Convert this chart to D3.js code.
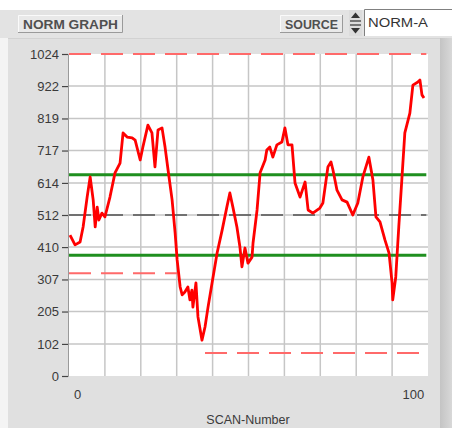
<!DOCTYPE html>
<html>
<head>
<meta charset="utf-8">
<script src="https://cdn.jsdelivr.net/npm/d3@7"></script>
<style>
  html, body { margin: 0; padding: 0; background: #ffffff; }
  svg { display: block; }
  text { font-family: "Liberation Sans", Arial, sans-serif; fill: #3a3a3a; }
</style>
</head>
<body>
<script>
// ---- data ----
const scanX = [-2.1, -0.6, 0.9, 1.8, 3.0, 3.9, 4.8, 5.4, 6.0, 6.5, 7.4, 8.3, 9.8, 11.3, 12.8, 13.7, 14.9, 16.4, 17.3, 18.8,
  19.6, 21.1, 22.3, 23.2, 24.1, 25.3, 26.2, 27.1, 28.3, 29.2, 29.8, 30.7, 31.3, 32.1, 33.0, 33.6, 34.2, 34.5, 35.4, 36.0,
  37.2, 38.1, 39.0, 40.2, 41.7, 43.2, 44.6, 45.5, 46.4, 47.6, 48.5, 49.1, 50.0, 50.9, 52.1, 52.4, 53.6, 54.5, 56.0, 56.5,
  57.4, 58.3, 59.5, 61.0, 61.9, 62.8, 64.0, 64.9, 66.4, 67.9, 68.8, 70.2, 72.3, 73.2, 74.7, 75.6, 76.2, 77.4, 78.9, 80.4,
  82.1, 83.6, 85.1, 86.9, 88.1, 89.0, 90.2, 91.7, 92.9, 93.8, 94.0, 94.9, 95.8, 96.7, 97.6, 99.1, 100.0, 101.5, 102.1, 102.7, 103.3];
const normY = [448, 417, 426, 474, 569, 633, 560, 474, 537, 496, 518, 506, 569, 646, 677, 773, 760, 757, 750, 687,
  728, 798, 773, 665, 782, 789, 728, 655, 560, 455, 369, 283, 258, 267, 283, 242, 273, 219, 296, 188,
  114, 156, 219, 296, 391, 464, 537, 582, 537, 474, 410, 347, 407, 359, 378, 423, 528, 646, 687, 719,
  728, 696, 735, 744, 789, 735, 735, 614, 569, 617, 528, 518, 534, 550, 665, 681, 655, 591, 560, 553,
  512, 550, 633, 696, 623, 506, 490, 432, 391, 296, 242, 315, 474, 623, 773, 836, 925, 935, 941, 894, 884];

const yTicks = [0, 102, 205, 307, 410, 512, 614, 717, 819, 922, 1024];
const xTicks = [0, 100];
const xDomain = [-2.4, 104.5];
const yDomain = [0, 1024];
const gridDivisions = 10;

// limit lines: [xStart, xEnd, value]
const redLimits = [[-2.4, 104.0, 1024], [-2.4, 29.8, 327], [38.1, 104.0, 73]];
const greenLimits = [[-2.4, 104.0, 640], [-2.4, 104.0, 384]];
const centerLines = [[-2.4, 104.0, 512]];

const titleText = "NORM GRAPH";
const sourceLabel = "SOURCE";
const sourceValue = "NORM-A";
const xTitle = "SCAN-Number";

// ---- drawing ----
const W = 452, H = 428;
const plot = { left: 69, right: 428, top: 54, bottom: 376 };

const svg = d3.select("body").append("svg").attr("width", W).attr("height", H);

// panels
svg.append("rect").attr("x", 0).attr("y", 0).attr("width", W).attr("height", H).attr("fill", "#ffffff");
svg.append("rect").attr("x", 0).attr("y", 10).attr("width", W).attr("height", H - 10).attr("fill", "#e3e3e3");
// graph frame
svg.append("rect").attr("x", 0).attr("y", 38).attr("width", 8).attr("height", H - 38).attr("fill", "#f4f4f4");
svg.append("rect").attr("x", 8).attr("y", 38).attr("width", 432).attr("height", H - 38).attr("fill", "#e0e0e0");
svg.append("line").attr("x1", 8).attr("x2", 440).attr("y1", 38.5).attr("y2", 38.5).attr("stroke", "#d2d2d2");
const grad = svg.append("defs").append("linearGradient").attr("id", "rgrad")
  .attr("x1", "0").attr("x2", "1").attr("y1", "0").attr("y2", "0");
grad.append("stop").attr("offset", "0").attr("stop-color", "#c4c4c4");
grad.append("stop").attr("offset", "1").attr("stop-color", "#d8d8d8");
svg.append("rect").attr("x", 440).attr("y", 38).attr("width", 12).attr("height", H - 38).attr("fill", "url(#rgrad)");

// header: raised label boxes
function raisedBox(x, y, w, h, label) {
  svg.append("rect").attr("x", x).attr("y", y).attr("width", w).attr("height", h).attr("fill", "#e9e9e9");
  svg.append("path").attr("d", `M${x + 0.5},${y + h}V${y + 0.5}H${x + w}`).attr("stroke", "#fafafa").attr("fill", "none");
  svg.append("path").attr("d", `M${x},${y + h - 0.5}H${x + w - 0.5}V${y}`).attr("stroke", "#9a9a9a").attr("fill", "none");
  svg.append("text").attr("x", x + w / 2).attr("y", y + h / 2 + 4.5).attr("text-anchor", "middle")
    .attr("font-size", 12).attr("font-weight", "bold").attr("textLength", w - 10).attr("lengthAdjust", "spacingAndGlyphs")
    .style("fill", "#505050").text(label);
}
raisedBox(18, 15, 105, 18, titleText);
raisedBox(280, 15, 63, 18, sourceLabel);

// spinner
svg.append("rect").attr("x", 349).attr("y", 10).attr("width", 13).attr("height", 26).attr("fill", "#dcdcdc");
svg.append("path").attr("d", "M351,18L355.5,12.5L360,18Z").attr("fill", "#333");
svg.append("path").attr("d", "M351,28L355.5,33.5L360,28Z").attr("fill", "#333");
svg.append("line").attr("x1", 350).attr("x2", 361).attr("y1", 21).attr("y2", 21).attr("stroke", "#333").attr("stroke-width", 1.2);
svg.append("line").attr("x1", 350).attr("x2", 361).attr("y1", 25).attr("y2", 25).attr("stroke", "#333").attr("stroke-width", 1.2);
// text box
svg.append("rect").attr("x", 364).attr("y", 9).attr("width", 88).attr("height", 27).attr("fill", "#ffffff");
svg.append("path").attr("d", "M364.5,36V9.5H452").attr("stroke", "#808080").attr("fill", "none");
svg.append("text").attr("x", 368).attr("y", 27).attr("font-size", 12).attr("textLength", 60)
  .attr("lengthAdjust", "spacingAndGlyphs").style("fill", "#333").text(sourceValue);

// scales
const x = d3.scaleLinear().domain(xDomain).range([plot.left, plot.right]);
const y = d3.scaleLinear().domain(yDomain).range([plot.bottom, plot.top]);
const gx = d3.scaleLinear().domain([0, gridDivisions]).range([plot.left, plot.right]);

// plot background
svg.append("rect").attr("x", plot.left).attr("y", plot.top).attr("width", plot.right - plot.left)
  .attr("height", plot.bottom - plot.top).attr("fill", "#ffffff");

// grid
const grid = svg.append("g").attr("stroke", "#c6c6c6").attr("stroke-width", 1.5);
grid.selectAll("line.v").data(d3.range(1, gridDivisions)).join("line")
  .attr("x1", d => gx(d)).attr("x2", d => gx(d)).attr("y1", plot.top).attr("y2", plot.bottom);
grid.selectAll("line.h").data(yTicks.slice(1, -1)).join("line")
  .attr("x1", plot.left).attr("x2", plot.right).attr("y1", d => y(d)).attr("y2", d => y(d));

// y axis
const yAxis = d3.axisLeft(y).tickValues(yTicks).tickSize(6).tickPadding(3).tickFormat(d3.format("d"));
const yg = svg.append("g").attr("transform", `translate(${plot.left - 1},0)`).call(yAxis);
yg.select(".domain").attr("stroke", "#9a9a9a");
yg.selectAll(".tick line").attr("stroke", "#444").attr("stroke-width", 1.2);
yg.selectAll(".tick text").attr("font-size", 13).attr("font-family", "Liberation Sans, Arial, sans-serif")
  .style("fill", "#3a3a3a");

// x axis labels
const xAxis = d3.axisBottom(x).tickValues(xTicks).tickSize(0).tickPadding(14).tickFormat(d3.format("d"));
const xg = svg.append("g").attr("transform", `translate(0,${plot.bottom})`).call(xAxis);
xg.select(".domain").remove();
xg.selectAll(".tick text").attr("font-size", 13).attr("font-family", "Liberation Sans, Arial, sans-serif")
  .style("fill", "#3a3a3a");
svg.append("text").attr("x", 248).attr("y", 424).attr("text-anchor", "middle").attr("font-size", 12.5)
  .text(xTitle);

// limit lines
function limitLines(data, color, width, dash) {
  svg.append("g").selectAll("line").data(data).join("line")
    .attr("x1", d => x(d[0])).attr("x2", d => x(d[1])).attr("y1", d => y(d[2])).attr("y2", d => y(d[2]))
    .attr("stroke", color).attr("stroke-width", width).attr("stroke-dasharray", dash);
}
limitLines(redLimits, "#ff6a6a", 2, "22,10");
limitLines(centerLines, "#505050", 1.5, "22,10");
limitLines(greenLimits, "#1f8f1f", 3.2, null);

// data line
const pts = scanX.map((v, i) => [v, normY[i]]);
svg.append("path").datum(pts)
  .attr("d", d3.line().x(d => x(d[0])).y(d => y(d[1])))
  .attr("fill", "none").attr("stroke", "#ff0000").attr("stroke-width", 2.8).attr("stroke-linejoin", "round");
</script>
</body>
</html>
